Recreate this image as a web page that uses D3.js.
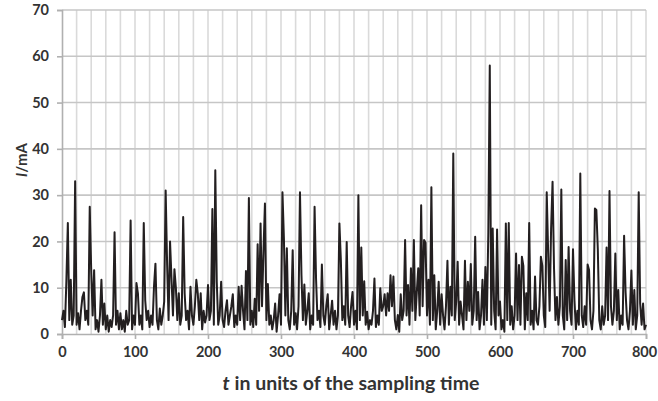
<!DOCTYPE html>
<html>
<head>
<meta charset="utf-8">
<script src="https://cdn.jsdelivr.net/npm/d3@7"></script>
<style>
  body { margin: 0; background: #fff; }
  text { font-family: Lato, "Open Sans", sans-serif; }
</style>
</head>
<body>
<svg id="chart"></svg>
<script>
const W = 658
const H = 401
const margin = { top: 10, left: 62, right: 12, bottom: 67 }
const width = W - margin.left - margin.right
const height = H - margin.top - margin.bottom

// one reading every 2 samples, t = 0 .. 800
const sampleStep = 2
const current = [
  3, 5, 1.5, 11.5, 24, 3, 11.7, 2, 4, 33, 2, 4.5, 1, 5, 8, 9, 3, 5, 2, 27.5,
  13.8, 4, 13.8, 1, 3, 0.5, 4, 11.7, 2, 6.6, 1, 4, 0.5, 3, 1.5, 4, 22, 2, 5, 1,
  4.5, 1, 3, 0.5, 5, 2, 3, 24.5, 1, 4, 2, 11, 8.8, 2, 4, 1, 24, 7.3, 3, 5,
  1.5, 4, 2, 10.2, 15.2, 3, 1, 5.5, 2, 4, 7, 31, 15, 3, 20, 12, 4, 14, 10, 3,
  8.8, 2, 4, 25.3, 8.8, 3, 5, 1, 10.2, 4, 2, 6, 11.7, 8.8, 3, 8.8, 1, 5, 2.5, 4,
  10.6, 3, 5, 27, 2, 35.4, 11.3, 2, 4, 11.3, 3, 1.5, 5, 7.3, 2, 4, 6, 8.6, 1.5, 4,
  2, 10.2, 3, 10.4, 5, 1, 13.6, 3, 29.4, 2, 5, 1.5, 7.6, 2, 19.4, 5, 23.9, 6, 18, 28.2,
  3, 10.8, 2, 4, 1, 3, 6.6, 0.5, 4, 8.6, 2, 30.6, 20.6, 4, 18.5, 3, 1, 5, 18.1, 2,
  4.5, 1, 6, 30.6, 12.9, 3, 10.7, 2, 5, 8.8, 1, 4, 2, 27.5, 12, 3, 5, 1.5, 15, 4,
  2, 6, 8.6, 1, 4, 7.2, 2, 5, 1, 4, 23.9, 16, 3, 6, 2, 19.9, 4, 1.5, 6, 9.1,
  2, 5, 1, 30, 3, 18.7, 4, 11.4, 2, 4.8, 1, 3, 2, 5, 12, 1.5, 4, 2, 9.9, 5,
  6, 8.6, 4, 8.8, 5, 12.7, 6, 12.4, 3, 1, 4.1, 0.5, 8.6, 3, 5, 20.3, 4, 10.6, 2, 14.2,
  5, 20.3, 3, 9, 14.2, 4, 27.8, 6, 20.3, 19.7, 4, 11.7, 2, 31.7, 3, 12.7, 1, 5, 11.3, 2,
  8.6, 4, 1, 6, 15.8, 2, 10.2, 4, 39, 3, 7, 15.6, 2, 7, 4, 1, 15.8, 3, 11.3, 5,
  15.1, 2, 5, 21, 3, 9.1, 1, 4, 11.7, 2, 14.5, 3, 22, 58, 2, 22.8, 5, 1, 22.6, 4,
  7, 1, 3, 0.5, 23.9, 3, 24, 2, 6, 1, 4, 17.4, 3, 14.9, 2, 16.7, 14.7, 1, 8.8, 3,
  24, 2, 5, 1, 12.4, 3, 2, 6, 16.7, 14.7, 4, 1.5, 30.6, 17.4, 5, 22.8, 32.9, 14.2, 3, 8,
  2, 6, 31.2, 4, 1, 16, 3, 18.8, 5, 2, 18.3, 7.3, 1, 5, 2, 34.7, 4, 1.5, 6, 2,
  15, 13.8, 3, 1, 5, 27.1, 26.8, 18.3, 3, 1, 6, 2, 4, 18.7, 3, 30.9, 6, 2, 5, 17.4,
  3, 9.5, 1, 4, 2, 21.2, 9.1, 3, 1, 5, 13.7, 2, 9.5, 1, 4, 30.6, 6.6, 2, 6.6, 1,
  2
]

const xTicks = [0, 100, 200, 300, 400, 500, 600, 700, 800]
const yTicks = [0, 10, 20, 30, 40, 50, 60, 70]

const svg = d3.select('#chart')
  .attr('width', W)
  .attr('height', H)

const g = svg.append('g')
  .attr('transform', `translate(${margin.left},${margin.top})`)

const x = d3.scaleLinear().domain([0, 800]).range([0, width])
const y = d3.scaleLinear().domain([0, 70]).range([height, 0])

// vertical grid every 20
g.append('g')
  .selectAll('line')
  .data(d3.range(20, 801, 20))
  .enter()
  .append('line')
  .attr('x1', d => x(d))
  .attr('x2', d => x(d))
  .attr('y1', 0)
  .attr('y2', height)
  .attr('stroke', '#dadada')
  .attr('stroke-width', 1.6)

// horizontal grid
g.append('g')
  .selectAll('line')
  .data(yTicks.slice(1))
  .enter()
  .append('line')
  .attr('x1', 0)
  .attr('x2', width)
  .attr('y1', d => y(d))
  .attr('y2', d => y(d))
  .attr('stroke', '#c6c6c6')
  .attr('stroke-width', 1.6)

const xAxis = g.append('g')
  .attr('transform', `translate(0,${height})`)
  .call(d3.axisBottom(x).tickValues(xTicks).tickSize(5).tickPadding(8))
const yAxis = g.append('g')
  .call(d3.axisLeft(y).tickValues(yTicks).tickSize(5).tickPadding(8))

;[xAxis, yAxis].forEach(a => {
  a.select('.domain').attr('stroke', '#b0b0b0').attr('stroke-width', 1.6)
  a.selectAll('.tick line').attr('stroke', '#b0b0b0').attr('stroke-width', 1.6)
  a.selectAll('.tick text')
    .attr('fill', '#333')
    .style('font-family', 'Lato, sans-serif')
    .style('font-size', '14.5px')
    .style('font-weight', 'bold')
})
// keep the last label inside the page
xAxis.selectAll('.tick text').filter(d => d === 800).attr('dx', -2)

const line = d3.line()
  .x((d, i) => x(i * sampleStep))
  .y(d => y(d))

g.append('path')
  .datum(current)
  .attr('d', line)
  .attr('fill', 'none')
  .attr('stroke', '#231f20')
  .attr('stroke-width', 2)
  .attr('stroke-linejoin', 'round')

// axis titles
const xTitle = svg.append('text')
  .attr('x', margin.left + width / 2 - 3)
  .attr('y', 390)
  .attr('text-anchor', 'middle')
  .attr('fill', '#333')
  .style('font-size', '19.5px')
  .style('font-weight', 'bold')
xTitle.append('tspan').style('font-style', 'italic').text('t')
xTitle.append('tspan').text(' in units of the sampling time')

const yTitle = svg.append('text')
  .attr('transform', `translate(27,${margin.top + 150}) rotate(-90)`)
  .attr('text-anchor', 'middle')
  .attr('fill', '#333')
  .style('font-size', '15px')
  .style('font-weight', 'bold')
yTitle.append('tspan').style('font-style', 'italic').text('I')
yTitle.append('tspan').text('/mA')
</script>
</body>
</html>
